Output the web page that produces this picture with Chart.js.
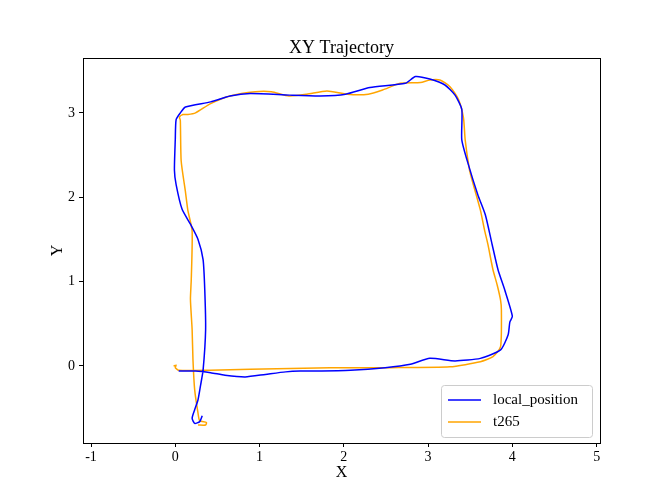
<!DOCTYPE html>
<html><head><meta charset="utf-8">
<script src="https://cdn.jsdelivr.net/npm/chart.js@4.4.0/dist/chart.umd.min.js"></script>
<style>body{margin:0;background:#fff}#w{width:666px;height:500px}</style></head>
<body><div id="w"><canvas id="c" width="666" height="500"></canvas></div>
<script>
// Trajectory samples [x, y]
const localX = [0.32,0.29,0.23,0.20,0.23,0.27,0.30,0.33,0.36,0.35,0.33,0.27,0.18,0.08,0.01,-0.01,0.00,0.01,0.06,0.12,0.42,0.65,0.89,1.36,1.72,2.02,2.31,2.73,2.85,3.02,3.20,3.32,3.40,3.40,3.48,3.59,3.68,3.76,3.83,3.91,4.00,3.97,3.95,3.86,3.62,3.32,3.02,2.79,2.49,2.08,1.66,1.48,1.31,1.07,0.83,0.59,0.42,0.24,0.04];
const localY = [-0.59,-0.66,-0.68,-0.62,-0.52,-0.40,-0.23,-0.05,0.43,0.90,1.26,1.50,1.68,1.86,2.15,2.32,2.68,2.92,3.00,3.07,3.13,3.20,3.23,3.21,3.20,3.22,3.30,3.35,3.43,3.40,3.33,3.21,3.04,2.68,2.38,2.03,1.79,1.44,1.14,0.90,0.59,0.52,0.37,0.19,0.09,0.06,0.09,0.02,-0.02,-0.05,-0.06,-0.06,-0.07,-0.10,-0.13,-0.11,-0.08,-0.06,-0.06];
const t265X = [-0.02,0.01,0.00,0.04,0.41,0.89,1.84,2.55,3.26,3.62,3.77,3.86,3.87,3.86,3.82,3.77,3.71,3.67,3.62,3.52,3.49,3.44,3.42,3.36,3.26,3.14,3.02,2.91,2.67,2.46,2.29,2.04,1.80,1.56,1.35,1.14,0.95,0.65,0.42,0.24,0.15,0.09,0.05,0.06,0.07,0.12,0.15,0.20,0.19,0.18,0.20,0.21,0.23,0.27,0.29,0.37,0.36,0.27];
const t265Y = [0.00,0.01,-0.02,-0.05,-0.05,-0.04,-0.02,-0.02,-0.01,0.05,0.11,0.23,0.66,0.78,0.96,1.14,1.44,1.61,1.85,2.21,2.33,2.68,2.94,3.16,3.31,3.39,3.39,3.36,3.35,3.27,3.22,3.22,3.26,3.22,3.20,3.25,3.25,3.20,3.11,3.00,2.98,2.98,2.95,2.91,2.43,2.07,1.84,1.60,1.03,0.79,0.43,0.07,-0.28,-0.56,-0.65,-0.67,-0.70,-0.70];
const xTicks = [-1,0,1,2,3,4,5];
const yTicks = [0,1,2,3];
const seriesNames = ['local_position','t265'];
const seriesColors = ['#0000ff','#ffa500'];

const F = "'Liberation Serif','DejaVu Serif',serif";
const toPts = (xs, ys) => xs.map((x, i) => ({x, y: ys[i]}));
const ds = (label, data, color) => ({label, data, borderColor: color, backgroundColor: color, borderWidth: 1.5, pointRadius: 0, showLine: true, tension: 0.2, fill: false});

const frame = {
  id: 'frame',
  afterDraw(ch) {
    const {ctx, chartArea: a} = ch;
    ctx.save();
    ctx.strokeStyle = '#000'; ctx.lineWidth = 1;
    ctx.strokeRect(a.left + 0.5, a.top + 0.5, a.width, a.height);
    ctx.fillStyle = '#000';
    ctx.font = '18px ' + F; ctx.textAlign = 'center'; ctx.textBaseline = 'alphabetic';
    ctx.fillText('XY Trajectory', (a.left + a.right) / 2, 53);
    const lx = 441, ly = 385, lw = 151, lh = 52;
    ctx.fillStyle = 'rgba(255,255,255,0.8)';
    ctx.strokeStyle = '#cccccc';
    ctx.beginPath(); ctx.roundRect(lx + 0.5, ly + 0.5, lw, lh, 3); ctx.fill(); ctx.stroke();
    ctx.font = '15px ' + F; ctx.textAlign = 'left'; ctx.textBaseline = 'middle';
    seriesNames.forEach((n, i) => {
      const yy = ly + 15 + i * 22;
      ctx.strokeStyle = seriesColors[i]; ctx.lineWidth = 1.5;
      ctx.beginPath(); ctx.moveTo(lx + 7, yy); ctx.lineTo(lx + 40, yy); ctx.stroke();
      ctx.fillStyle = '#000'; ctx.fillText(n, lx + 52, yy);
    });
    ctx.restore();
  }
};

new Chart(document.getElementById('c'), {
  type: 'scatter',
  data: {datasets: [ds(seriesNames[0], toPts(localX, localY), seriesColors[0]), ds(seriesNames[1], toPts(t265X, t265Y), seriesColors[1])]},
  options: {
    responsive: false, animation: false,
    layout: {padding: {top: 58, right: 66, left: 44, bottom: 14}},
    plugins: {legend: {display: false}, title: {display: false}, tooltip: {enabled: false}},
    scales: {
      x: {type: 'linear', min: -1.095, max: 5.04,
        afterBuildTicks: s => { s.ticks = xTicks.map(v => ({value: v})); },
        afterFit: s => { s.height = 43; },
        grid: {display: true, drawOnChartArea: false, tickLength: 4, color: '#000'},
        border: {display: false},
        ticks: {color: '#000', font: {family: F, size: 14}, padding: 2, maxRotation: 0},
        title: {display: true, text: 'X', color: '#000', font: {family: F, size: 16}, padding: {top: 0}}},
      y: {type: 'linear', min: -0.913, max: 3.65,
        afterBuildTicks: s => { s.ticks = yTicks.map(v => ({value: v})); },
        afterFit: s => { s.width = 39; },
        grid: {display: true, drawOnChartArea: false, tickLength: 4, color: '#000'},
        border: {display: false},
        ticks: {color: '#000', font: {family: F, size: 14}, padding: 4},
        title: {display: true, text: 'Y', color: '#000', font: {family: F, size: 16}, padding: {bottom: 0}}}
    }
  },
  plugins: [frame]
});
</script></body></html>
